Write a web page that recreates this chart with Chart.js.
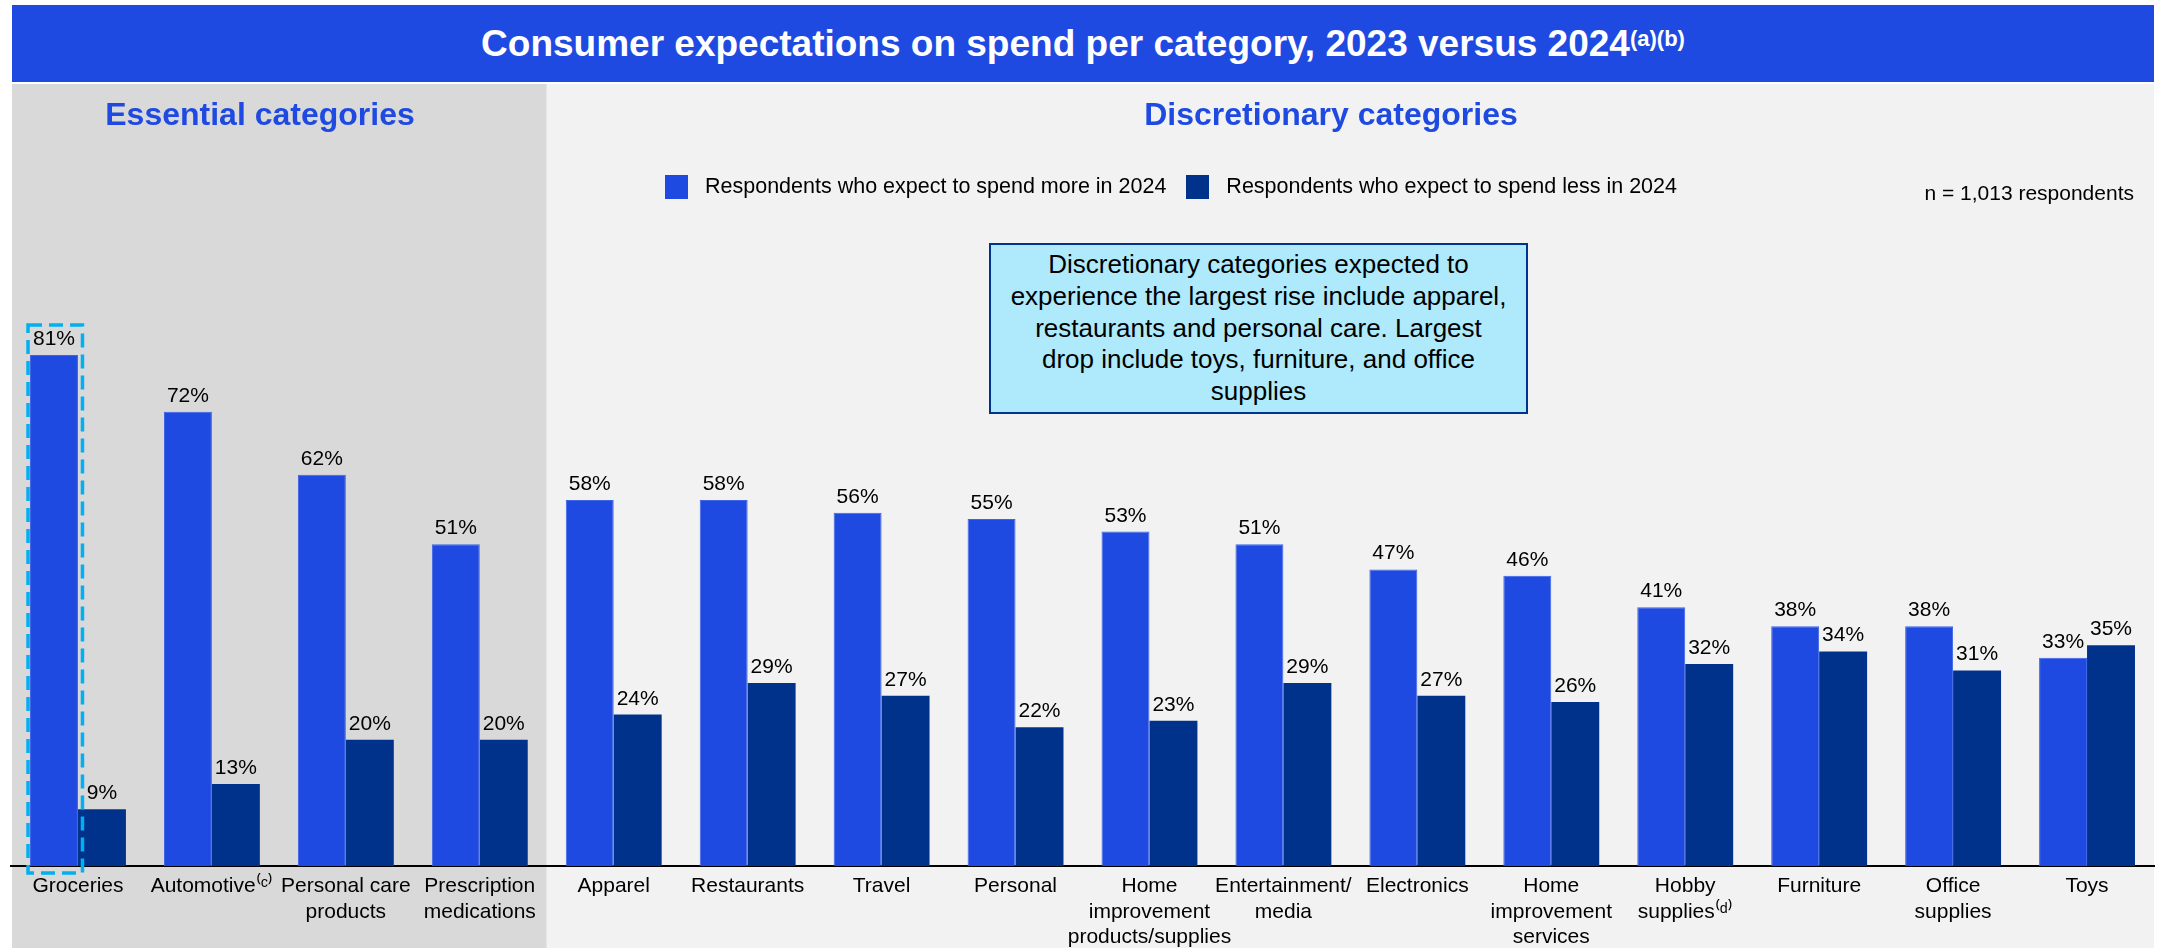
<!DOCTYPE html>
<html>
<head>
<meta charset="utf-8">
<script src="https://cdn.jsdelivr.net/npm/chart.js@4/dist/chart.umd.min.js"></script>
<style>
  html, body { margin: 0; padding: 0; background: #ffffff; }
  body { width: 2158px; height: 948px; position: relative; overflow: hidden;
         font-family: "Liberation Sans", Arial, sans-serif; }
  #chart { position: absolute; left: 0; top: 0; }
  .title-bar { position: absolute; left: 12px; top: 5px; width: 2142px; height: 77px;
               background: #1f4ae2; color: #fff; font-weight: bold; font-size: 37px;
               display: flex; align-items: center; justify-content: center; z-index: 2; }
  .title-bar sup { font-size: 22px; position: relative; top: -5px; }
  .heading { position: absolute; top: 96px; color: #1f4ae2; font-weight: bold; font-size: 32px;
             transform: translateX(-50%); white-space: nowrap; z-index: 2; }
  .legend { position: absolute; top: 174px; left: 665px; display: flex; align-items: center;
            font-size: 21.5px; color: #000; z-index: 2; }
  .legend .item { display: flex; align-items: center; margin-right: 20px; }
  .legend .sw { width: 23px; height: 24px; margin-right: 17px; }
  .note-n { position: absolute; top: 181px; right: 24px; font-size: 21px; color: #000; z-index: 2; }
  .callout { position: absolute; left: 989px; top: 243px; width: 535px; height: 167px;
             background: #aeeafc; border: 2px solid #00338d; color: #000;
             font-size: 26px; line-height: 31.7px; text-align: center; z-index: 2;
             display: flex; align-items: center; justify-content: center; box-sizing: content-box; }
</style>
</head>
<body>
<canvas id="chart" width="2158" height="948"></canvas>
<div class="title-bar">Consumer expectations on spend per category, 2023 versus 2024<sup>(a)(b)</sup></div>
<div class="heading" style="left:260px">Essential categories</div>
<div class="heading" style="left:1331px">Discretionary categories</div>
<div class="legend" id="legend"></div>
<div class="note-n">n = 1,013 respondents</div>
<div class="callout"><div>Discretionary categories expected to<br>experience the largest rise include apparel,<br>restaurants and personal care. Largest<br>drop include toys, furniture, and office<br>supplies</div></div>
<script>
// Spending categories (multi-line tick labels)
const categories = [
  ['Groceries'],
  ['Automotive⁽ᶜ⁾'],
  ['Personal care', 'products'],
  ['Prescription', 'medications'],
  ['Apparel'],
  ['Restaurants'],
  ['Travel'],
  ['Personal'],
  ['Home', 'improvement', 'products/supplies'],
  ['Entertainment/', 'media'],
  ['Electronics'],
  ['Home', 'improvement', 'services'],
  ['Hobby', 'supplies⁽ᵈ⁾'],
  ['Furniture'],
  ['Office', 'supplies'],
  ['Toys']
];

// Share of respondents (%)
const spendMore = [81, 72, 62, 51, 58, 58, 56, 55, 53, 51, 47, 46, 41, 38, 38, 33];
const spendLess = [9, 13, 20, 20, 24, 29, 27, 22, 23, 29, 27, 26, 32, 34, 31, 35];

const seriesNames = [
  'Respondents who expect to spend more in 2024',
  'Respondents who expect to spend less in 2024'
];

// Number of essential categories (left shaded panel)
const essentialCount = 4;

const BLUE = '#1f4ae2';
const NAVY = '#00328c';

// Shaded panels behind the essential and discretionary groups
const panelsPlugin = {
  id: 'panels',
  beforeDraw(chart) {
    const { ctx, scales: { x } } = chart;
    const split = (x.getPixelForTick(essentialCount - 1) + x.getPixelForTick(essentialCount)) / 2;
    ctx.save();
    ctx.fillStyle = '#d9d9d9';
    ctx.fillRect(12, 84, split - 12, 948 - 84);
    ctx.fillStyle = '#f2f2f2';
    ctx.fillRect(split, 84, 2154 - split, 948 - 84);
    ctx.restore();
  }
};

// Percentage labels above each bar
const valueLabels = {
  id: 'valueLabels',
  afterDatasetsDraw(chart) {
    const { ctx } = chart;
    ctx.save();
    ctx.font = '21px "Liberation Sans", Arial, sans-serif';
    ctx.fillStyle = '#000';
    ctx.textAlign = 'center';
    ctx.textBaseline = 'alphabetic';
    chart.data.datasets.forEach((ds, di) => {
      chart.getDatasetMeta(di).data.forEach((bar, i) => {
        ctx.fillText(ds.data[i] + '%', bar.x, bar.y - 10);
      });
    });
    ctx.restore();
  }
};

// Dashed highlight around the groceries bar
const highlight = {
  id: 'highlight',
  afterDatasetsDraw(chart) {
    const bar = chart.getDatasetMeta(0).data[0];
    const { ctx } = chart;
    const left = bar.x - bar.width / 2 - 2;
    const right = bar.x + bar.width / 2 + 4.5;
    const top = bar.y - 30;
    const bottom = bar.base + 7;
    ctx.save();
    ctx.strokeStyle = '#00b0f0';
    ctx.lineWidth = 3.5;
    ctx.setLineDash([14, 7]);
    ctx.strokeRect(left, top, right - left, bottom - top);
    ctx.restore();
  }
};

const chart = new Chart(document.getElementById('chart'), {
  type: 'bar',
  data: {
    labels: categories,
    datasets: [
      { label: seriesNames[0], data: spendMore, backgroundColor: BLUE,
        borderColor: '#3d63e8', borderWidth: { left: 1, right: 1, top: 1, bottom: 0 } },
      { label: seriesNames[1], data: spendLess, backgroundColor: NAVY }
    ]
  },
  options: {
    responsive: false,
    devicePixelRatio: 1,
    animation: false,
    events: [],
    layout: { padding: { left: 11, right: 4, top: 235, bottom: 0 } },
    datasets: { bar: { categoryPercentage: 0.716, barPercentage: 1.0 } },
    plugins: { legend: { display: false }, tooltip: { enabled: false } },
    scales: {
      x: {
        grid: { display: false, drawTicks: false },
        border: { display: true, color: '#000', width: 2 },
        ticks: {
          color: '#000', autoSkip: false, maxRotation: 0, minRotation: 0, padding: 8,
          font: { family: '"Liberation Sans", Arial, sans-serif', size: 21, lineHeight: 1.2 }
        },
        afterFit(scale) { scale.height = 82; }
      },
      y: { display: false, min: 0, max: 100 }
    }
  },
  plugins: [panelsPlugin, valueLabels, highlight]
});

// Legend built from the dataset definitions
const legendEl = document.getElementById('legend');
chart.data.datasets.forEach(ds => {
  const item = document.createElement('div');
  item.className = 'item';
  const sw = document.createElement('span');
  sw.className = 'sw';
  sw.style.background = ds.backgroundColor;
  const txt = document.createElement('span');
  txt.textContent = ds.label;
  item.appendChild(sw);
  item.appendChild(txt);
  legendEl.appendChild(item);
});
</script>
</body>
</html>
